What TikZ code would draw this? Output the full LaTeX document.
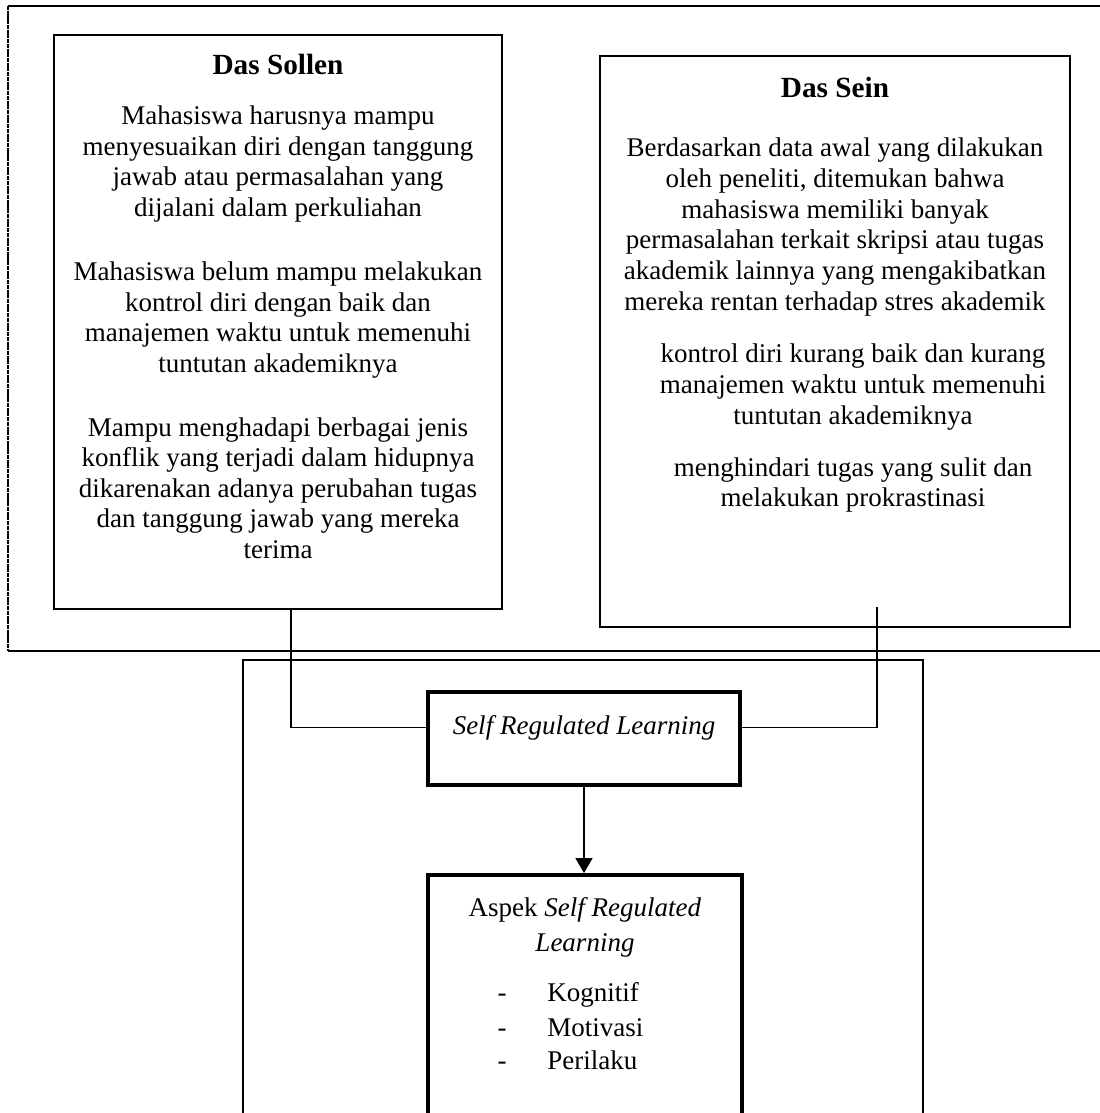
\documentclass[tikz,border=0pt]{standalone}
\usepackage{fontspec}
\setmainfont{Liberation Serif}
\usetikzlibrary{arrows.meta}
\newdimen\px \px=0.4444pt
\tikzset{
  box/.style={draw, line width=1.3pt, rectangle, inner sep=0pt},
  srlbox/.style={draw, line width=1.7pt, rectangle, inner sep=0pt},
  title/.style={font=\fontsize{13}{15}\selectfont\bfseries, inner sep=0pt},
  body/.style={align=center, font=\fontsize{12}{13.6}\selectfont, inner sep=0pt},
  item/.style={font=\fontsize{12}{13.6}\selectfont, inner sep=0pt},
  conn/.style={line width=0.45pt},
}
\begin{document}
\begin{tikzpicture}[x=\px, y=-\px, >={Triangle[width=7.5pt,length=6.7pt]}]
\clip (0,0) rectangle (1100,1113);
\fill[white] (0,0) rectangle (1100,1113);

% frames
\draw[line width=1.1pt] (1120,6) -- (8,6);
\draw[line width=1.2pt, dash pattern=on 1.8pt off 0.3pt] (8,6) -- (8,651);
\draw[line width=1.1pt] (8,651) -- (1120,651);
\draw[line width=1.1pt] (243,1130) -- (243,660) -- (923,660) -- (923,1130);

% das sollen
\node(Sollen)[box, minimum width=448\px, minimum height=574\px] at (278,322) {};
\node(SolT)[title] at (278,64) {Das Sollen};
\node(SolA)[body] at (278,164) {Mahasiswa harusnya mampu\\menyesuaikan diri dengan tanggung\\jawab atau permasalahan yang\\dijalani dalam perkuliahan};
\node(SolB)[body] at (278,320) {Mahasiswa belum mampu melakukan\\kontrol diri dengan baik dan\\manajemen waktu untuk memenuhi\\tuntutan akademiknya};
\node(SolC)[body] at (278,488) {Mampu menghadapi berbagai jenis\\konflik yang terjadi dalam hidupnya\\dikarenakan adanya perubahan tugas\\dan tanggung jawab yang mereka\\terima};

% das sein
\node(Sein)[box, minimum width=470\px, minimum height=571\px] at (835,341.5) {};
\node(SeinT)[title] at (835,87) {Das Sein};
\node(SeinA)[body] at (835,227) {Berdasarkan data awal yang dilakukan\\oleh peneliti, ditemukan bahwa\\mahasiswa memiliki banyak\\permasalahan terkait skripsi atau tugas\\akademik lainnya yang mengakibatkan\\mereka rentan terhadap stres akademik};
\node(SeinB)[body] at (853,387) {kontrol diri kurang baik dan kurang\\manajemen waktu untuk memenuhi\\tuntutan akademiknya};
\node(SeinC)[body] at (853,485) {menghindari tugas yang sulit dan\\melakukan prokrastinasi};

% self regulated learning
\node(SRL)[srlbox, minimum width=312\px, minimum height=93\px] at (584,738.5) {};
\node(SRLT)[item] at (584,728) {\textit{Self Regulated Learning}};

\node(Aspek)[srlbox, minimum width=314\px, minimum height=265\px] at (585,1007.5) {};
\node(AspT)[body, font=\fontsize{12}{15.5}\selectfont] at (585,927) {Aspek \textit{Self Regulated}\\\textit{Learning}};
\node(D1)[item, anchor=base] at (502,1001) {-};
\node(Kog)[item, anchor=base west] at (547,1001) {Kognitif};
\node(D2)[item, anchor=base] at (502,1036) {-};
\node(Mot)[item, anchor=base west] at (547,1036) {Motivasi};
\node(D3)[item, anchor=base] at (502,1069) {-};
\node(Per)[item, anchor=base west] at (547,1069) {Perilaku};

% connectors
\coordinate(JL) at (291,727);
\coordinate(JR) at (877,727);
\coordinate(JRtop) at (877,607);
\draw[conn] (Sollen.south -| JL) -- (JL) -- (SRL.west |- JL);
\draw[conn] (JRtop) -- (JR) -- (SRL.east |- JR);
\draw[line width=0.9pt, ->] (SRL.south) -- (SRL.south |- Aspek.north);
\end{tikzpicture}
\end{document}
